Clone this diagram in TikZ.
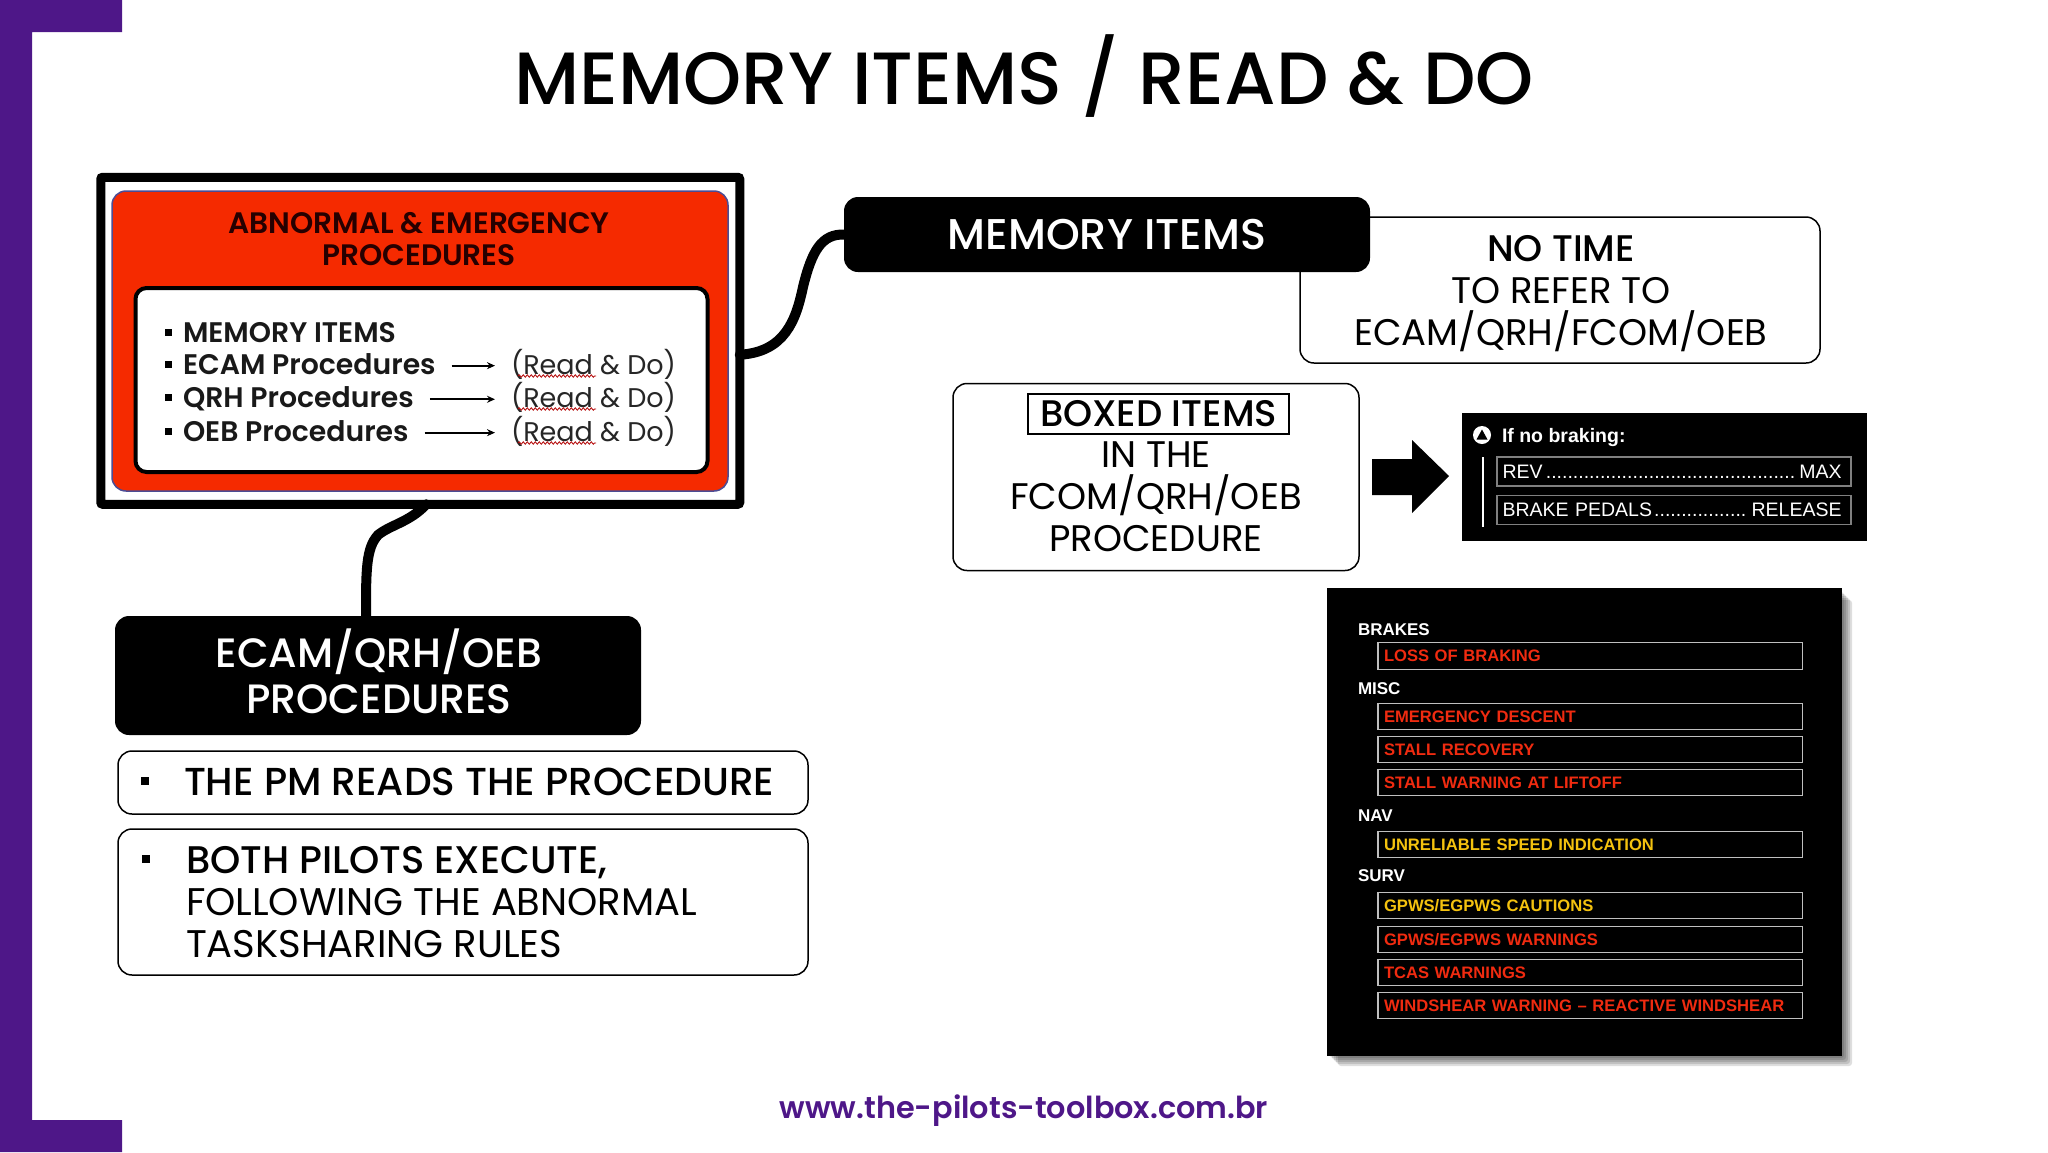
\documentclass[tikz,border=0pt]{standalone}
\usepackage{fontspec}
\setmainfont{Poppins}
\newfontfamily\popmed{Poppins}[UprightFont=*-Medium]
\newfontfamily\popsemi{Poppins}[UprightFont=*-SemiBold]
\newfontfamily\panelfont{Liberation Sans}
\usetikzlibrary{arrows.meta,decorations.pathmorphing}
\definecolor{brandpurple}{HTML}{4E1788}
\definecolor{procred}{HTML}{F52A00}
\definecolor{ecamred}{HTML}{F02B10}
\definecolor{ecamamber}{HTML}{F4C20F}
\newcommand{\fsize}[2]{\fontsize{#1}{#2}\selectfont}
\tikzset{
    every node/.style={inner sep=0pt,outer sep=0pt},
    link/.style={line width=10pt,line cap=round},
    blackbox/.style={fill=black,text=white,rounded corners=14pt,align=center,font=\popmed\fsize{41}{46}},
    notebox/.style={draw=black,line width=1.5pt,fill=white,rounded corners=14pt},
    notetext/.style={align=center,font=\fsize{37}{42}},
    square/.style={fill=black,minimum size=#1},
    listtext/.style={anchor=base west,font=\popsemi\fsize{28.3}{32},text=black!90},
    readdo/.style={anchor=base west,font=\fsize{27}{32},text=black!85},
    thinarrow/.style={-{Stealth[length=8pt,width=7pt]},line width=1.8pt,shorten <=16pt,shorten >=16pt},
    squiggle/.style={draw=red!70!black,line width=0.8pt,decorate,decoration={snake,amplitude=1.2pt,segment length=4pt}},
    header/.style={anchor=base west,text=white,font=\panelfont\bfseries\fsize{17}{20}},
    ecamrow/.style={draw=black!25,line width=1.2pt,anchor=west,minimum height=26.5pt,text width=412.5pt,
        inner xsep=6pt,align=left,font=\panelfont\bfseries\fsize{16.6}{20},text=#1},
    stepbox/.style={draw=black!50,line width=1.2pt,anchor=west,minimum height=29pt,text width=343pt,
        inner xsep=5.5pt,align=left,text=white,font=\panelfont\fsize{19.5}{24}},
}
\begin{document}
\begin{tikzpicture}[x=1pt,y=-1pt]
    \useasboundingbox (0,0) rectangle (2048,1152);
    %% brand bar
    \fill[brandpurple] (0,0) -- (122,0) -- (122,32) -- (32,32) -- (32,1120) -- (122,1120)
        -- (122,1152) -- (0,1152) -- cycle;
    \node[font=\popmed\fsize{74}{80}] (title) at (1024,76.5) {MEMORY ITEMS / READ \& DO};
    \node[font=\popsemi\fsize{30.3}{36},text=brandpurple] (site) at (1024,1111) {www.the-pilots-toolbox.com.br};

    %% procedures card
    \node[draw=black,line width=9pt,fill=white,rounded corners=2pt,minimum width=639pt,minimum height=327pt] (frame) at (420.25,340.75) {};
    \node[draw=black!30!blue!40!gray,line width=1.5pt,fill=procred,rounded corners=14pt,minimum width=616pt,minimum height=300pt] (redcard) at (420,341) {};
    \node[draw=black,line width=4pt,fill=white,rounded corners=11pt,minimum width=572pt,minimum height=184pt] (listcard) at (421.5,380) {};
    \node[align=center,font=\popsemi\fsize{29.6}{32},text=black!85!red] (cardtitle) at (419,239) {ABNORMAL \& EMERGENCY\\PROCEDURES};
    \node[square=7pt] (b1) at (168,332) {};
    \node[square=7pt] (b2) at (168,364) {};
    \node[square=7pt] (b3) at (168,397) {};
    \node[square=7pt] (b4) at (168,431) {};
    \node[listtext] (memory) at (183,342) {MEMORY ITEMS};
    \node[listtext] (ecam) at (183,374) {ECAM Procedures};
    \node[listtext] (qrh) at (183,407) {QRH Procedures};
    \node[listtext] (oeb) at (183,441) {OEB Procedures};
    \node[readdo] (rd1) at (511,374) {(Read \& Do)};
    \node[readdo] (rd2) at (511,407) {(Read \& Do)};
    \node[readdo] (rd3) at (511,441) {(Read \& Do)};
    \draw[thinarrow] ([yshift=-2pt]ecam.east) -- ([yshift=-2pt]ecam.east -| rd1.west);
    \draw[thinarrow] ([yshift=-1pt]qrh.east) -- ([yshift=-1pt]qrh.east -| rd2.west);
    \draw[thinarrow] ([yshift=-2pt]oeb.east) -- ([yshift=-2pt]oeb.east -| rd3.west);
    \foreach \rd in {rd1,rd2,rd3} {
        \draw[squiggle] ([xshift=7pt,yshift=-2pt]\rd.base west) -- ([xshift=85pt,yshift=-2pt]\rd.base west);
    }

    %% memory items
    \node[notebox,minimum width=520pt,minimum height=146pt] (notime) at (1560,290) {};
    \node[notetext] (notimetext) at (1561,294) {{\popmed NO TIME}\\TO REFER TO\\ECAM/QRH/FCOM/OEB};
    \node[blackbox,minimum width=526pt,minimum height=75pt,font=\popmed\fsize{43}{46}] (memhead) at (1107,234.5) {MEMORY ITEMS};
    \draw[link] ([yshift=-14pt]frame.east) .. controls (785,352) and (796,320) .. (803,287)
        .. controls (812,250) and (822,234) .. (memhead.west);

    %% boxed items
    \node[notebox,minimum width=406pt,minimum height=187pt] (boxednote) at (1156,477) {};
    \node[draw=black,line width=2pt,minimum width=261pt,minimum height=40pt,font=\popmed\fsize{37}{42}] (boxedtitle) at (1158.5,414) {BOXED ITEMS};
    \node[notetext] (boxedtext) at (1156,497) {IN THE\\FCOM/QRH/OEB\\PROCEDURE};
    \fill (1372,459) -- (1412,459) -- (1412,440) -- (1449,476) -- (1412,513) -- (1412,495) -- (1372,495) -- cycle;

    %% no braking panel
    \node[fill=black,minimum width=405pt,minimum height=128pt] (panel) at (1664.5,477) {};
    \fill[white] (1482,435) circle (9);
    \fill[black] (1482,429.5) -- (1487.5,439.5) -- (1476.5,439.5) -- cycle;
    \node[header,font=\panelfont\bfseries\fsize{19.5}{22}] (nobraking) at (1502,442) {If no braking:};
    \draw[white,line width=1.5pt] (1483,457) -- (1483,527);
    \node[stepbox] (rev) at (1497,471.5) {REV\leaders\hbox{.}\hfill MAX\hspace*{4pt}};
    \node[stepbox] (pedals) at (1497,510) {BRAKE PEDALS\leaders\hbox{.}\hfill RELEASE\hspace*{4pt}};

    %% ecam list panel
    \foreach \s in {2,4,6,8,10} {
        \fill[black,opacity=.13,rounded corners=3pt] (1328+\s,590+\s) rectangle (1842+\s,1056+\s);
    }
    \node[fill=black,minimum width=515.5pt,minimum height=468pt] (ecampanel) at (1584.25,822) {};
    \node[header] (hbrakes) at (1358,635) {BRAKES};
    \node[header] (hmisc) at (1358,694) {MISC};
    \node[header] (hnav) at (1358,821.5) {NAV};
    \node[header] (hsurv) at (1358,881.5) {SURV};
    \foreach \n/\ypos/\col/\txt in {
        1/656/ecamred/{LOSS OF BRAKING},
        2/716.5/ecamred/{EMERGENCY DESCENT},
        3/749.5/ecamred/{STALL RECOVERY},
        4/782.5/ecamred/{STALL WARNING AT LIFTOFF},
        5/844.5/ecamamber/{UNRELIABLE SPEED INDICATION},
        6/905.5/ecamamber/{GPWS/EGPWS CAUTIONS},
        7/939.5/ecamred/{GPWS/EGPWS WARNINGS},
        8/972.5/ecamred/{TCAS WARNINGS},
        9/1005.5/ecamred/{WINDSHEAR WARNING – REACTIVE WINDSHEAR}} {
        \node[ecamrow=\col] (row\n) at (1378,\ypos) {\txt};
    }

    %% procedures
    \node[blackbox,minimum width=526pt,minimum height=119pt] (prochead) at (378,675.5) {};
    \node[align=center,text=white,font=\popmed\fsize{41}{46}] (proctext) at (379,671.5) {ECAM/QRH/OEB\\PROCEDURES};
    \draw[link] ([xshift=6pt]frame.south) .. controls (410,522) and (390,525) .. (378,535)
        .. controls (366,548) and (366,570) .. ([xshift=-12pt]prochead.north);
    \node[notebox,minimum width=690pt,minimum height=63pt] (pmbox) at (463,782.5) {};
    \node[square=8pt] (b5) at (145,781) {};
    \node[anchor=base west,font=\popmed\fsize{39}{40}] (pmtext) at (184,795) {THE PM READS THE PROCEDURE};
    \node[notebox,minimum width=690pt,minimum height=146pt] (bothbox) at (463,902) {};
    \node[square=8pt] (b6) at (146,859) {};
    \node[anchor=west,align=left,font=\fsize{38.5}{42}] (bothtext) at (186,902) {{\popmed BOTH PILOTS EXECUTE,}\\FOLLOWING THE ABNORMAL\\TASKSHARING RULES};
\end{tikzpicture}
\end{document}
